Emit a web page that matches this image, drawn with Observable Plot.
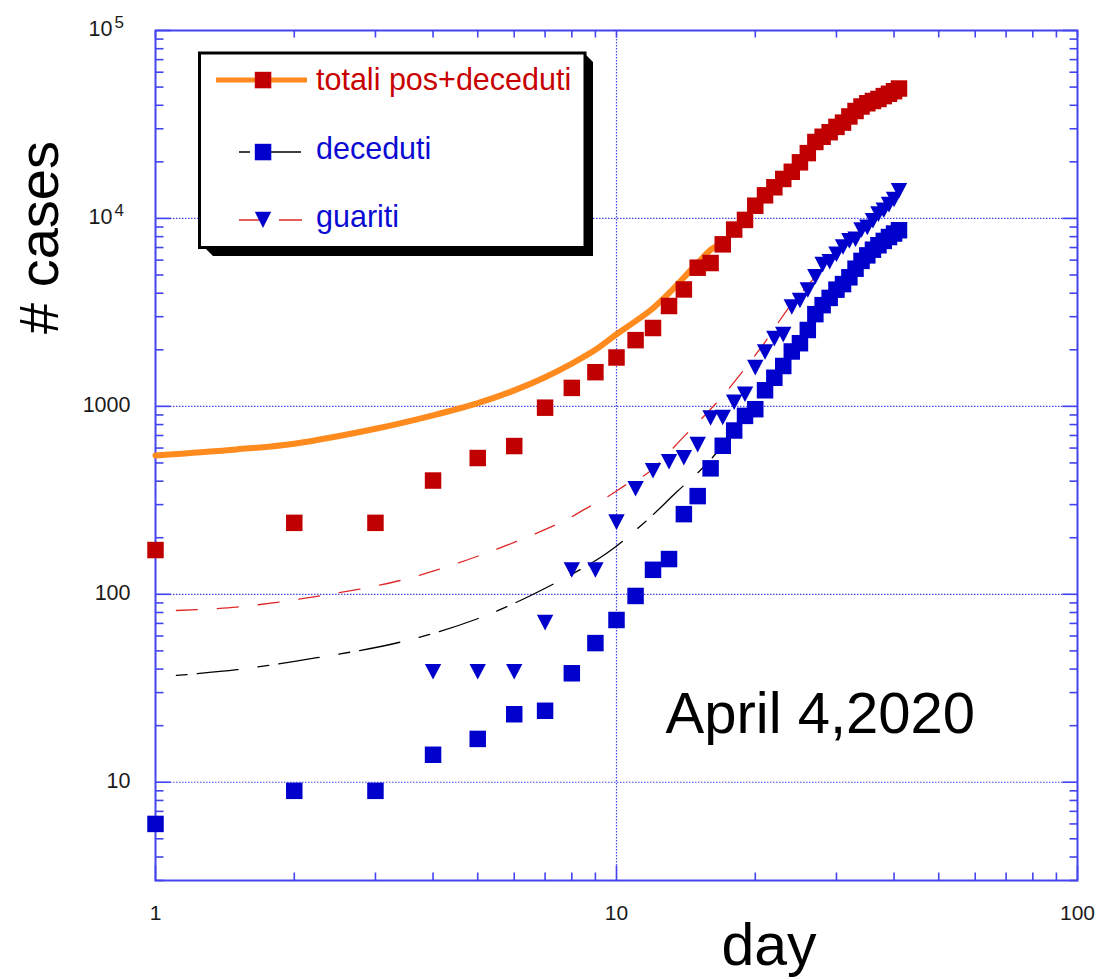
<!DOCTYPE html>
<html>
<head>
<meta charset="utf-8">
<script src="https://cdn.jsdelivr.net/npm/d3@7"></script>
<script src="https://cdn.jsdelivr.net/npm/@observablehq/plot@0.6"></script>
<style>
html, body { margin: 0; padding: 0; background: #fff; }
#wrap { position: relative; width: 1098px; height: 978px; overflow: hidden; background: #fff; }
#wrap > svg { display: block; }
#legend { position: absolute; left: 0; top: 0; pointer-events: none; }
</style>
</head>
<body>
<div id="wrap"></div>
<script>
// ---------------- data ----------------
const days = [1,2,3,4,5,6,7,8,9,10,11,12,13,14,15,16,17,18,19,20,21,22,23,24,25,26,27,28,29,30,31,32,33,34,35,36,37,38,39,40,41];

const totali = [172,240,240,403,531,615,984,1254,1520,1820,2251,2612,3420,4189,5469,5791,7280,8725,9820,11685,
  13272,14649,16220,17713,19884,22264,25515,27206,28761,30703,32346,34889,37298,39415,41007,42161,43208,44773,46065,47520,49118];

const deceduti = [6,9,9,14,17,23,24,38,55,73,98,135,154,267,333,468,617,744,890,966,
  1218,1420,1640,1959,2168,2549,3095,3456,3776,4178,4474,4861,5402,5944,6360,6818,7199,7593,7960,8311,8656];

const guariti = [null,null,null,40,40,40,73,139,139,250,376,469,524,550,646,896,900,1085,1198,1660,
  2011,2368,2485,3488,3778,4295,5050,5865,6075,6657,7281,7839,8001,8962,9255,10026,10885,11415,12229,13020,14498];

// fitted curves
const fitTotDays = [1,1.5,2,3,4,5,6,7,8,9,10,11,12,13,14,15,16,16.5];
const fitTotVals = [548,590,633,760,896,1040,1216,1430,1690,2000,2420,2840,3330,4000,4850,5800,6800,7150];

const fitDecDays = [1.11,1.5,2.24,3.4,5.16,7.67,9.54,11.65,13.5,15.2,16.3,18,20.5,23,25,28,31,35,38,41];
const fitDecVals = [37,39.7,46,55.7,76.4,121,166,248,350,457,548,740,1100,1640,2170,3400,4470,6360,7590,8650];

const fitGuaDays = [1.11,1.5,2.24,3.4,5.16,7.67,8.56,9.54,10.7,11.65,14.2,16.8,19.1,21,23.7,26,28.6,31,35,38,41];
const fitGuaVals = [82,85.5,97.5,118.6,164,245,285,329,395,439,716,1100,1618,2200,3375,4400,5740,7100,9500,11500,14300];

// axes
const xLabelTicks = [1, 10, 100];
const yPlainLabelTicks = [1000, 100, 10];
const yPowLabelTicks = [100000, 10000];
const yPowExponents = ["5", "4"];
const gridXValues = [10];
const gridYValues = [10, 100, 1000, 10000];
const xMajor = [1, 10, 100];
const yMajor = [10, 100, 1000, 10000, 100000];

// minor tick positions (2..9 within each decade)
const xMinor = [];
for (const dec of [1, 10]) for (let k = 2; k <= 9; k++) xMinor.push(k * dec);
const yMinor = [];
for (let k = 3; k <= 9; k++) yMinor.push(k);
for (const dec of [10, 100, 1000, 10000]) for (let k = 2; k <= 9; k++) yMinor.push(k * dec);

// ---------------- styling ----------------
const AXIS = "#4444ee";
const RED = "#c00000";
const BLUE = "#0000cc";
const ORANGE = "#ff8a1e";
const FONT = "'Liberation Sans', Arial, Helvetica, sans-serif";

const tickSym = (dx, dy) => ({ draw(ctx) { ctx.moveTo(0, 0); ctx.lineTo(dx, dy); } });
const triDown = { draw(ctx) { ctx.moveTo(-8.2, -5.2); ctx.lineTo(8.2, -5.2); ctx.lineTo(0, 10.4); ctx.closePath(); } };

const rows = (xs, ys) => xs.map((d, i) => ({ day: d, v: ys[i] }));
const totRows = rows(days, totali);
const decRows = rows(days, deceduti);
const guaRows = rows(days, guariti).filter(d => d.v != null && d.v > 0);

const tickMarks = (vals, anchor, sym) =>
  Plot.dot(vals, {
    ...(anchor === "left" || anchor === "right" ? { y: d => d } : { x: d => d }),
    frameAnchor: anchor, symbol: sym, r: 1, fill: "none", stroke: AXIS, strokeWidth: 1.6
  });

const plot = Plot.plot({
  width: 1098,
  height: 978,
  marginLeft: 155,
  marginRight: 21,
  marginTop: 30,
  marginBottom: 98,
  x: { type: "log", domain: [1, 100], axis: null },
  y: { type: "log", domain: [3, 100000], axis: null },
  style: { fontFamily: FONT, background: "white", overflow: "visible" },
  marks: [
    Plot.ruleY(gridYValues, { y: d => d, stroke: AXIS, strokeWidth: 1.2, strokeDasharray: "1.5,1.5" }),
    Plot.ruleX(gridXValues, { x: d => d, stroke: AXIS, strokeWidth: 1.2, strokeDasharray: "1.5,1.5" }),
    Plot.frame({ stroke: AXIS, strokeWidth: 2 }),
    // inward ticks on all four sides
    tickMarks(yMinor, "left", tickSym(8, 0)),
    tickMarks(yMajor, "left", tickSym(15, 0)),
    tickMarks(yMinor, "right", tickSym(-8, 0)),
    tickMarks(yMajor, "right", tickSym(-15, 0)),
    tickMarks(xMinor, "bottom", tickSym(0, -8)),
    tickMarks(xMajor, "bottom", tickSym(0, -15)),
    tickMarks(xMinor, "top", tickSym(0, 7)),
    tickMarks(xMajor, "top", tickSym(0, 7)),
    // fitted curves
    Plot.line(rows(fitDecDays, fitDecVals), { x: "day", y: "v", stroke: "#000", strokeWidth: 1.3, strokeDasharray: "11,10,41,20", curve: "catmull-rom" }),
    Plot.line(rows(fitGuaDays, fitGuaVals), { x: "day", y: "v", stroke: "#e02828", strokeWidth: 1.3, strokeDasharray: "21,20", curve: "catmull-rom" }),
    Plot.line(rows(fitTotDays, fitTotVals), { x: "day", y: "v", stroke: ORANGE, strokeWidth: 6, curve: "catmull-rom" }),
    // data points
    Plot.dot(totRows, { x: "day", y: "v", symbol: "square", r: 9.3, fill: RED, stroke: "none" }),
    Plot.dot(decRows, { x: "day", y: "v", symbol: "square", r: 9.3, fill: BLUE, stroke: "none" }),
    Plot.dot(guaRows, { x: "day", y: "v", symbol: triDown, r: 5, fill: BLUE, stroke: "none" }),
    // tick labels
    Plot.text(xLabelTicks, { x: d => d, text: d => String(d), frameAnchor: "bottom", textAnchor: "middle", lineAnchor: "middle", dy: 33, fontSize: 21, fill: "#1a1a1a" }),
    Plot.text(yPlainLabelTicks, { y: d => d, text: d => String(d), frameAnchor: "left", textAnchor: "end", lineAnchor: "middle", dx: -25, dy: -1.5, fontSize: 21.5, fill: "#1a1a1a" }),
    Plot.text(yPowLabelTicks, { y: d => d, text: () => "10", frameAnchor: "left", textAnchor: "end", lineAnchor: "middle", dx: -43, dy: -1.2, fontSize: 21.5, fill: "#1a1a1a" }),
    Plot.text(yPowLabelTicks, { y: d => d, text: (d, i) => yPowExponents[i], frameAnchor: "left", textAnchor: "start", lineAnchor: "middle", dx: -41, dy: -8, fontSize: 17, fill: "#1a1a1a" }),
    // titles
    Plot.text(["# cases"], { text: d => d, frameAnchor: "top-left", textAnchor: "middle", lineAnchor: "middle", dx: -115, dy: 207, rotate: -90, fontSize: 56, fill: "#000" }),
    Plot.text(["day"], { text: d => d, frameAnchor: "bottom", textAnchor: "middle", lineAnchor: "middle", dx: 152.5, dy: 66, fontSize: 59, fill: "#000" }),
    Plot.text(["April 4,2020"], { text: d => d, frameAnchor: "top-left", textAnchor: "start", lineAnchor: "middle", dx: 510, dy: 683.5, fontSize: 58, fill: "#000" })
  ]
});

const wrap = document.getElementById("wrap");
wrap.appendChild(plot);

// ---------------- legend box (overlay) ----------------
const legendItems = [
  { label: "totali pos+deceduti", textColor: "#c80000" },
  { label: "deceduti", textColor: "#0a0ad2" },
  { label: "guariti", textColor: "#0a0ad2" }
];
const NS = "http://www.w3.org/2000/svg";
const lg = document.createElementNS(NS, "svg");
lg.setAttribute("id", "legend");
lg.setAttribute("width", 1098);
lg.setAttribute("height", 978);
lg.setAttribute("font-family", FONT);
function el(tag, attrs, parent = lg) {
  const e = document.createElementNS(NS, tag);
  for (const k in attrs) e.setAttribute(k, attrs[k]);
  parent.appendChild(e);
  return e;
}
// shadow + box
el("path", { d: "M206,55 L586,55 L593,62 L593,256 L213,256 L206,249 Z", fill: "#000" });
el("rect", { x: 199.5, y: 53, width: 385.5, height: 194.5, fill: "#fff", stroke: "#000", "stroke-width": 3 });
// entry 1
el("line", { x1: 216, x2: 307, y1: 80, y2: 80, stroke: ORANGE, "stroke-width": 5 });
el("rect", { x: 254.8, y: 71.8, width: 16.5, height: 16.5, fill: RED });
// entry 2
el("line", { x1: 239, x2: 302, y1: 152, y2: 152, stroke: "#000", "stroke-width": 1.3, "stroke-dasharray": "11,10,41,20" });
el("rect", { x: 254.8, y: 143.8, width: 16.5, height: 16.5, fill: BLUE });
// entry 3
el("line", { x1: 239, x2: 302, y1: 220, y2: 220, stroke: "#e02828", "stroke-width": 1.3, "stroke-dasharray": "21,19,23" });
el("path", { d: "M254.8,211.8 L271.2,211.8 L263,228 Z", fill: BLUE });
const baselines = [90, 158.5, 227];
legendItems.forEach((it, i) => {
  const t = el("text", { x: 316, y: baselines[i], "font-size": 30.5, fill: it.textColor });
  t.textContent = it.label;
});
wrap.appendChild(lg);
</script>
</body>
</html>
